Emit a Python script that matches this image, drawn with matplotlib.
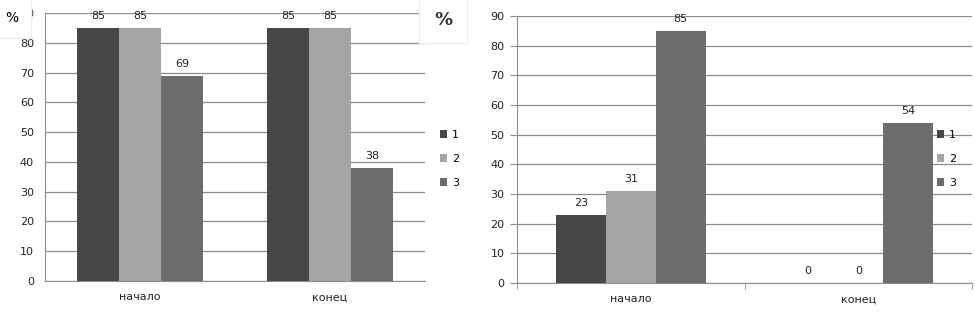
import numpy as np
import matplotlib.pyplot as plt

categories = ['начало', 'конец']
series_names = ['1', '2', '3']
left_values = [[85, 85], [85, 85], [69, 38]]
right_values = [[23, 0], [31, 0], [85, 54]]
colors = ['#474747', '#a5a5a5', '#6d6d6d']

fig = plt.figure(figsize=(9.75, 3.15), dpi=100)

def draw_panel(ax, values, width, show_yticks):
    x = np.arange(len(categories))
    for i, vals in enumerate(values):
        pos = x + (i - 1) * width
        ax.bar(pos, vals, width, color=colors[i], label=series_names[i], zorder=3)
        for xb, v in zip(pos, vals):
            ax.text(xb, v + 2.3, str(v), ha='center', va='bottom', fontsize=8, color='#222222')
    ax.set_xlim(-0.5, 1.5)
    ax.set_ylim(0, 90)
    ax.set_yticks(range(0, 91, 10))
    ax.yaxis.grid(True, color='#8c8c8c', linewidth=0.9, zorder=0)
    ax.set_xticks(x)
    ax.set_xticklabels(categories, fontsize=8, color='#222222')
    ax.tick_params(axis='y', labelsize=8, labelcolor='#222222', color='#8c8c8c',
                   length=5 if show_yticks else 0, pad=8 if not show_yticks else 4)
    ax.tick_params(axis='x', length=0, pad=8)
    for s in ['top', 'right']:
        ax.spines[s].set_visible(False)
    for s in ['left', 'bottom']:
        ax.spines[s].set_color('#8c8c8c')
    ax.set_axisbelow(True)

ax1 = fig.add_axes([45 / 975, 34 / 315, 380 / 975, 268 / 315])
draw_panel(ax1, left_values, 0.221, False)
ax1.legend(loc='upper left', bbox_to_anchor=(1.012, 0.60), frameon=False, fontsize=8,
           handlelength=0.7, handleheight=0.7, handletextpad=0.4, labelspacing=1.25)
fig.text(12 / 975, 1 - 18 / 315, '%', fontsize=10, ha='center', va='center',
         bbox=dict(facecolor='white', edgecolor='#eeeeee', boxstyle='square,pad=0.9'))

ax2 = fig.add_axes([517 / 975, 32 / 315, 455 / 975, 267 / 315])
draw_panel(ax2, right_values, 0.22, True)
ax2.set_xticks([-0.5, 0.5, 1.5], minor=True)
ax2.tick_params(axis='x', which='minor', length=4, color='#8c8c8c')
ax2.legend(loc='upper left', bbox_to_anchor=(0.9, 0.611), frameon=False, fontsize=8,
           handlelength=0.7, handleheight=0.7, handletextpad=0.4, labelspacing=1.25)
fig.text(443 / 975, 1 - 20 / 315, '%', fontsize=13, fontweight='bold', ha='center', va='center',
         color='#333333',
         bbox=dict(facecolor='white', edgecolor='#eeeeee', boxstyle='square,pad=0.8'))

fig.savefig('out.png', dpi=100)
